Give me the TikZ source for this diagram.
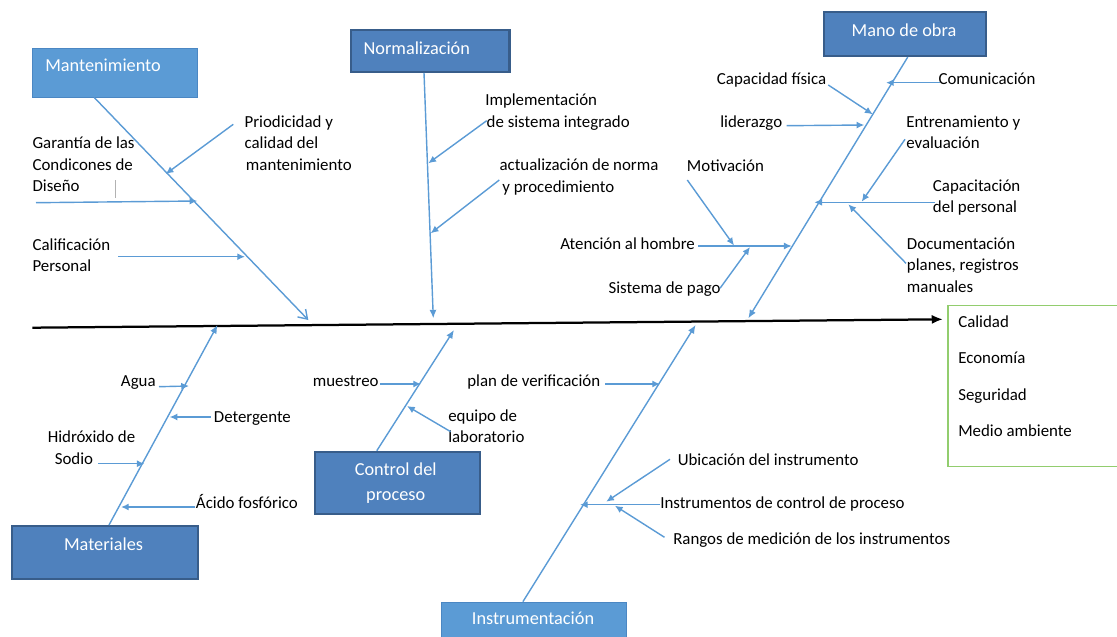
\documentclass[tikz,border=0pt]{standalone}
\usepackage{fontspec}
\setmainfont{Carlito}
\usetikzlibrary{arrows.meta}
\definecolor{azul}{RGB}{91,155,213}
\definecolor{fondoosc}{RGB}{79,129,189}
\definecolor{bordeosc}{RGB}{56,93,138}
\definecolor{fondocla}{RGB}{91,155,213}
\definecolor{bordecla}{RGB}{75,135,195}
\definecolor{verde}{RGB}{146,205,110}
\begin{document}
\begin{tikzpicture}[x=0.025cm,y=-0.025cm,
  catosc/.style={draw=bordeosc,line width=1.5pt,fill=fondoosc,anchor=north west,inner sep=0pt},
  catcla/.style={draw=bordecla,line width=0.6pt,fill=fondocla,anchor=north west,inner sep=0pt},
  cattxt/.style={text=white,font=\fontsize{13}{17.2}\selectfont,inner sep=0pt,align=center},
  lab/.style={font=\fontsize{12}{15.2}\selectfont,inner sep=0pt,align=left},
  hueso/.style={draw=azul,line width=1pt,-{Latex[length=6pt,width=5pt]}},
  sub/.style={draw=azul,line width=1pt,-{Latex[length=5.5pt,width=5pt]}}]
\useasboundingbox (0,0) rectangle (1117,637);
\clip (0,0) rectangle (1117,637);
% cajas de categorias
\node[catcla,minimum width=4.125cm,minimum height=1.21cm] (mantbox) at (32.3,48.3) {};
\node[catosc,minimum width=3.96cm,minimum height=1.035cm] (normbox) at (350,29.3) {};
\node[catosc,minimum width=4.04cm,minimum height=1.1cm] (manobox) at (823.3,11) {};
\node[catosc,minimum width=4.65cm,minimum height=1.32cm] (materbox) at (10.7,525) {};
\node[catosc,minimum width=4.125cm,minimum height=1.55cm] (ctrlbox) at (313.6,450.7) {};
\node[catcla,minimum width=4.63cm,minimum height=1.1cm] (instrbox) at (440.5,601.7) {};
\node[cattxt,anchor=base west] (manttxt) at (45,72) {Mantenimiento};
\node[cattxt,anchor=base west] (normtxt) at (363.3,54.3) {Normalización};
\node[cattxt,anchor=base] (manotxt) at (904,37) {Mano de obra};
\node[cattxt,anchor=base] (matertxt) at (103.6,550) {Materiales};
\node[cattxt,anchor=north] (ctrltxt) at (395.7,463) {Control del\\proceso};
\node[cattxt,anchor=base] (instrtxt) at (533,624) {Instrumentación};
% efecto
\node[draw=verde,line width=0.9pt,anchor=north west,inner sep=0pt,minimum width=4.75cm,minimum height=4.025cm] (efbox) at (947.3,305) {};
\node[lab,font=\fontsize{12}{25.9}\selectfont,anchor=north west] (eftxt) at (958,315.3) {Calidad\\Economía\\Seguridad\\Medio ambiente};
% espina y huesos
\coordinate (e0) at (32.3,327.7);
\coordinate (e1) at (943,319.3);
\coordinate (mantF) at (308.3,320);
\coordinate (normF) at (433.3,318.3);
\coordinate (manoF) at (748.3,318.3);
\coordinate (materF) at (217.5,325);
\coordinate (ctrlF) at (454,330);
\coordinate (instrF) at (695.6,325);
\draw[line width=1.6pt,-{Latex[length=8pt,width=6.5pt]}] (e0) -- (e1);
\draw[hueso,-{Straight Barb[length=6pt,width=8pt]}] ([shift={(62,0)}]mantbox.south west) -- (mantF);
\draw[hueso] ([shift={(74,0)}]normbox.south west) -- (normF);
\draw[hueso] ([shift={(84.4,0)}]manobox.south west) -- (manoF);
\draw[hueso] ([shift={(98.3,0)}]materbox.north west) -- (materF);
\draw[hueso] ([shift={(63.2,0)}]ctrlbox.north west) -- (ctrlF);
\draw[hueso] ([shift={(82.4,0)}]instrbox.north west) -- (instrF);
% Mantenimiento
\node[lab,anchor=north west] (prio) at (244.3,115.3) {Priodicidad y\\calidad del\\ \hspace*{1pt}mantenimiento};
\node[lab,anchor=north west] (gar) at (32.3,137) {Garantía de las\\Condicones de\\Diseño};
\node[lab,anchor=north west] (calif) at (32.3,238) {Calificación\\Personal};
\draw[gray!60,line width=0.6pt] (115,180) -- (115,198.3);
\coordinate (prio1) at (233.3,124.3); \coordinate (prio2) at (165.7,174);
\coordinate (gar1) at (36,202.7); \coordinate (gar2) at (197.3,201);
\coordinate (calif1) at (118.3,256.7); \coordinate (calif2) at (245,256.7);
\draw[sub] (prio1) -- (prio2);
\draw[sub] (gar1) -- (gar2);
\draw[sub] (calif1) -- (calif2);
% Normalizacion
\node[lab,anchor=north west] (impl) at (485,93.7) {Implementación\\\hspace*{1pt}de sistema integrado};
\node[lab,anchor=north west] (actu) at (499.3,158.7) {actualización de norma\\\hspace*{2pt}y procedimiento};
\coordinate (impl1) at (486.7,120.7); \coordinate (impl2) at (428.3,163.3);
\coordinate (actu1) at (499.3,180); \coordinate (actu2) at (430.7,233.3);
\draw[sub] (impl1) -- (impl2);
\draw[sub] (actu1) -- (actu2);
% Mano de obra
\node[lab,anchor=base west] (capf) at (716.7,85) {Capacidad física};
\node[lab,anchor=base west] (comu) at (938.3,85) {Comunicación};
\node[lab,anchor=base west] (lide) at (720,128) {liderazgo};
\node[lab,anchor=north west] (entr) at (906,115.3) {Entrenamiento y\\evaluación};
\node[lab,anchor=north west] (capac) at (932.7,179.7) {Capacitación\\del personal};
\node[lab,anchor=north west] (docu) at (906.7,237.7) {Documentación\\planes, registros\\manuales};
\node[lab,anchor=base west] (moti) at (686.7,171) {Motivación};
\node[lab,anchor=base west] (aten) at (560,249) {Atención al hombre};
\node[lab,anchor=base west] (sist) at (608.3,293.5) {Sistema de pago};
\coordinate (capf1) at (828.3,85); \coordinate (capf2) at (872.7,114.3);
\coordinate (comu1) at (940,82.7); \coordinate (comu2) at (886,82.7);
\coordinate (lide1) at (786.7,125.7); \coordinate (lide2) at (864.3,125);
\coordinate (entr1) at (905,139.3); \coordinate (entr2) at (861.7,201.7);
\coordinate (capac1) at (935,202.3); \coordinate (capac2) at (814.3,202.3);
\coordinate (docu1) at (906,263.3); \coordinate (docu2) at (848.3,204.3);
\coordinate (moti1) at (687.3,180); \coordinate (moti2) at (734,245.5);
\coordinate (aten1) at (698.3,246); \coordinate (aten2) at (791.7,246);
\coordinate (sist1) at (720,288.3); \coordinate (sist2) at (750,247);
\draw[sub] (capf1) -- (capf2);
\draw[sub] (comu1) -- (comu2);
\draw[sub] (lide1) -- (lide2);
\draw[sub] (entr1) -- (entr2);
\draw[sub] (capac1) -- (capac2);
\draw[sub] (docu1) -- (docu2);
\draw[sub] (moti1) -- (moti2);
\draw[sub] (aten1) -- (aten2);
\draw[sub] (sist1) -- (sist2);
% Materiales
\node[lab,anchor=base west] (agua) at (120.7,386) {Agua};
\node[lab,anchor=base west] (dete) at (213.6,422) {Detergente};
\node[lab,anchor=north west] (hidr) at (47.5,430.7) {Hidróxido de\\\hspace*{5pt}Sodio};
\node[lab,anchor=base west] (acid) at (195.7,508.5) {Ácido fosfórico};
\coordinate (agua1) at (159,386.7); \coordinate (agua2) at (189,386);
\coordinate (dete1) at (210.7,417); \coordinate (dete2) at (169.6,417);
\coordinate (hidr1) at (98,463.7); \coordinate (hidr2) at (144.6,463.7);
\coordinate (acid1) at (194.6,507); \coordinate (acid2) at (121,507);
\draw[sub] (agua1) -- (agua2);
\draw[sub] (dete1) -- (dete2);
\draw[sub] (hidr1) -- (hidr2);
\draw[sub] (acid1) -- (acid2);
% Control del proceso
\node[lab,anchor=base west] (mues) at (312.5,386) {muestreo};
\node[lab,anchor=north west] (equi) at (448,409) {equipo de\\laboratorio};
\coordinate (mues1) at (380,384); \coordinate (mues2) at (421,384);
\coordinate (equi1) at (450.7,431.7); \coordinate (equi2) at (407,406);
\draw[sub] (mues1) -- (mues2);
\draw[sub] (equi1) -- (equi2);
% Instrumentacion
\node[lab,anchor=base west] (plan) at (467,386) {plan de verificación};
\node[lab,anchor=base west] (ubic) at (677.5,465.5) {Ubicación del instrumento};
\node[lab,anchor=base west] (inst) at (660,508.5) {Instrumentos de control de proceso};
\node[lab,anchor=base west] (rang) at (673,544) {Rangos de medición de los instrumentos};
\coordinate (plan1) at (605.4,384); \coordinate (plan2) at (660,384);
\coordinate (ubic1) at (670,459.3); \coordinate (ubic2) at (606.2,501.7);
\coordinate (inst1) at (660,504.7); \coordinate (inst2) at (580,504.7);
\coordinate (rang1) at (664.5,537.3); \coordinate (rang2) at (614.9,505.7);
\draw[sub] (plan1) -- (plan2);
\draw[sub] (ubic1) -- (ubic2);
\draw[sub] (inst1) -- (inst2);
\draw[sub] (rang1) -- (rang2);
\end{tikzpicture}
\end{document}
